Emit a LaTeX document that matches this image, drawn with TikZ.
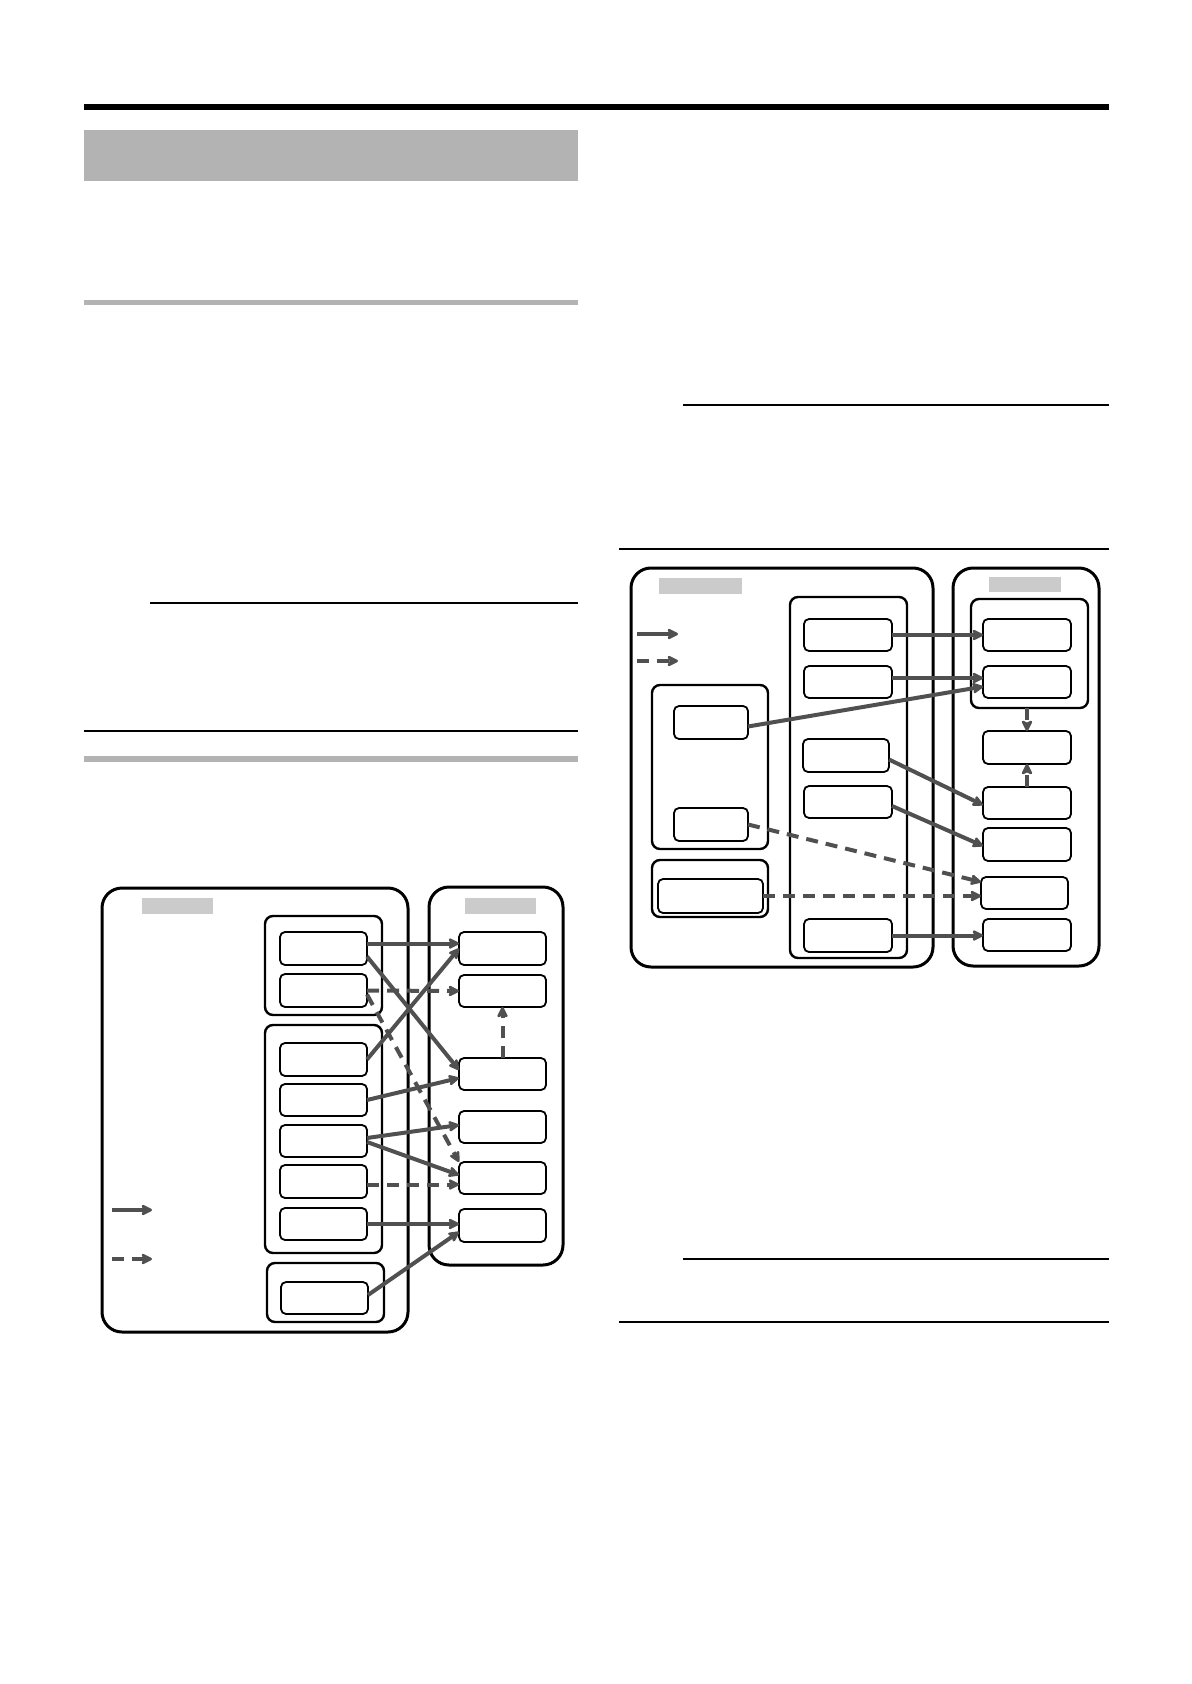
\documentclass[tikz,border=0pt]{standalone}
\usetikzlibrary{arrows.meta,calc}
\definecolor{arr}{HTML}{505050}
\definecolor{hdr}{HTML}{B3B3B3}
\definecolor{lbl}{HTML}{CBCBCB}
\newcommand\mybox[6]{\node[#6, minimum width={(#4-#2)*0.5pt}, minimum height={(#5-#3)*0.5pt}] (#1) at ({(#2+#4)/2},{(#3+#5)/2}) {};}
\tikzset{
  outerbox/.style={draw=black, line width=1.5pt, rounded corners=10pt, inner sep=0pt, outer sep=0pt},
  groupbox/.style={draw=black, line width=1.2pt, rounded corners=4pt, inner sep=0pt, outer sep=0pt},
  itembox/.style={draw=black, line width=0.9pt, rounded corners=2.5pt, fill=white, inner sep=0pt, outer sep=0pt},
  labelbox/.style={fill=lbl, inner sep=0pt, outer sep=0pt},
  conn/.style={draw=arr, line width=2pt, -{Stealth[length=6.5pt,width=6.5pt,inset=1.5pt,round]}},
  dconn/.style={conn, dash pattern=on 6pt off 4pt},
  rulethin/.style={draw=black, line width=0.7pt},
}
\begin{document}
\begin{tikzpicture}[x=0.5pt,y=-0.5pt]
\useasboundingbox (0,0) rectangle (1191,1684);
% page rules and bars
\fill[black] (84,104) rectangle (1109,110);
\fill[hdr] (84,130) rectangle (578,181);
\fill[hdr] (84,300) rectangle (578,305);
\draw[rulethin] (150,603) -- (578,603);
\draw[rulethin] (84,731) -- (578,731);
\fill[hdr] (84,756) rectangle (578,762);
\draw[rulethin] (683,405) -- (1109,405);
\draw[rulethin] (619,549) -- (1109,549);
\draw[rulethin] (683,1259) -- (1109,1259);
\draw[rulethin] (619,1322) -- (1109,1322);

% ===== left diagram =====
\mybox{LO}{102}{888}{408}{1332}{outerbox}
\mybox{RO}{429}{887}{563}{1265}{outerbox}
\mybox{LOlab}{142}{898}{213}{914}{labelbox}
\mybox{ROlab}{465}{898}{536}{914}{labelbox}
\mybox{G1}{265}{916}{382}{1015}{groupbox}
\mybox{G2}{265}{1025}{382}{1253}{groupbox}
\mybox{G3}{267}{1263}{384}{1322}{groupbox}
\mybox{a1}{280}{932}{367}{965}{itembox}
\mybox{a2}{280}{974}{367}{1007}{itembox}
\mybox{b1}{280}{1043}{367}{1076}{itembox}
\mybox{b2}{280}{1084}{367}{1116}{itembox}
\mybox{b3}{280}{1125}{367}{1157}{itembox}
\mybox{b4}{280}{1165}{367}{1198}{itembox}
\mybox{b5}{280}{1208}{367}{1240}{itembox}
\mybox{c1}{281}{1282}{368}{1314}{itembox}
\mybox{r1}{459}{932}{546}{965}{itembox}
\mybox{r2}{459}{975}{546}{1007}{itembox}
\mybox{r3}{459}{1058}{546}{1090}{itembox}
\mybox{r4}{459}{1111}{546}{1143}{itembox}
\mybox{r5}{459}{1162}{546}{1194}{itembox}
\mybox{r6}{459}{1209}{546}{1242}{itembox}

\draw[conn] ([yshift=2.5pt]a1.east) -- ([yshift=2.5pt]r1.west);
\draw[conn] ([yshift=-4pt]a1.east) -- ([yshift=2pt]r3.west);
\draw[dconn] (a2.east) -- (r2.west);
\draw[dconn] ([yshift=-2pt]a2.east) -- (r5.north west);
\draw[conn] (b1.east) -- (r1.west);
\draw[conn] (b2.east) -- ([yshift=-2pt]r3.west);
\draw[conn] ([yshift=1.5pt]b3.east) -- ([yshift=1pt]r4.west);
\draw[conn] ([yshift=-0.5pt]b3.east) -- ([yshift=1.5pt]r5.west);
\draw[dconn] ([yshift=-1.5pt]b4.east) -- ([yshift=-1.5pt]b4.east -| r5.west);
\draw[conn] (b5.east) -- (b5.east -| r6.west);
\draw[conn] ([yshift=1.5pt]c1.east) -- ([yshift=-3.2pt]r6.west);
\draw[dconn] (r3.north) -- (r2.south);

\coordinate (lg1a) at (112,1210); \coordinate (lg1b) at (152,1210);
\coordinate (lg2a) at (112,1259); \coordinate (lg2b) at (152,1259);
\draw[conn] (lg1a) -- (lg1b);
\draw[dconn] (lg2a) -- (lg2b);

% ===== right diagram =====
\mybox{PO}{631}{568}{933}{967}{outerbox}
\mybox{QO}{953}{568}{1099}{966}{outerbox}
\mybox{POlab}{659}{578}{742}{594}{labelbox}
\mybox{QOlab}{989}{577}{1061}{592}{labelbox}
\mybox{MG}{790}{597}{907}{958}{groupbox}
\mybox{LG1}{652}{685}{768}{849}{groupbox}
\mybox{LG2}{652}{860}{768}{917}{groupbox}
\mybox{RG}{971}{599}{1088}{708}{groupbox}
\mybox{m1}{804}{619}{892}{651}{itembox}
\mybox{m2}{804}{666}{892}{698}{itembox}
\mybox{m3}{803}{739}{889}{772}{itembox}
\mybox{m4}{804}{786}{892}{818}{itembox}
\mybox{m5}{804}{919}{892}{952}{itembox}
\mybox{l1}{674}{706}{748}{739}{itembox}
\mybox{l2}{674}{808}{748}{841}{itembox}
\mybox{l3}{658}{879}{763}{913}{itembox}
\mybox{s1}{983}{619}{1071}{651}{itembox}
\mybox{s2}{983}{666}{1071}{698}{itembox}
\mybox{s3}{983}{731}{1071}{764}{itembox}
\mybox{s4}{983}{787}{1071}{819}{itembox}
\mybox{s5}{983}{828}{1071}{861}{itembox}
\mybox{s6}{981}{877}{1068}{909}{itembox}
\mybox{s7}{983}{919}{1071}{951}{itembox}

\draw[conn] (m1.east) -- (m1.east -| s1.west);
\draw[conn] ([yshift=2pt]m2.east) -- ([yshift=2pt]s2.west);
\draw[conn] ([yshift=-2pt]l1.east) -- ([yshift=-2.3pt]s2.west);
\draw[conn] ([yshift=-2pt]m3.east) -- ([yshift=-1pt]s4.west);
\draw[conn] ([yshift=-2pt]m4.east) -- ([yshift=-0.7pt]s5.west);
\draw[dconn] (l2.east) -- ([yshift=5.5pt]s6.west);
\draw[dconn] (l3.east) -- (l3.east -| s6.west);
\draw[conn] (m5.east) -- (m5.east -| s7.west);
\draw[dconn] (s3.north |- RG.south) -- (s3.north);
\draw[dconn] (s4.north) -- (s3.south);

\coordinate (rg1a) at (637,634); \coordinate (rg1b) at (678,634);
\coordinate (rg2a) at (637,661); \coordinate (rg2b) at (678,661);
\draw[conn] (rg1a) -- (rg1b);
\draw[dconn] (rg2a) -- (rg2b);
\end{tikzpicture}
\end{document}
